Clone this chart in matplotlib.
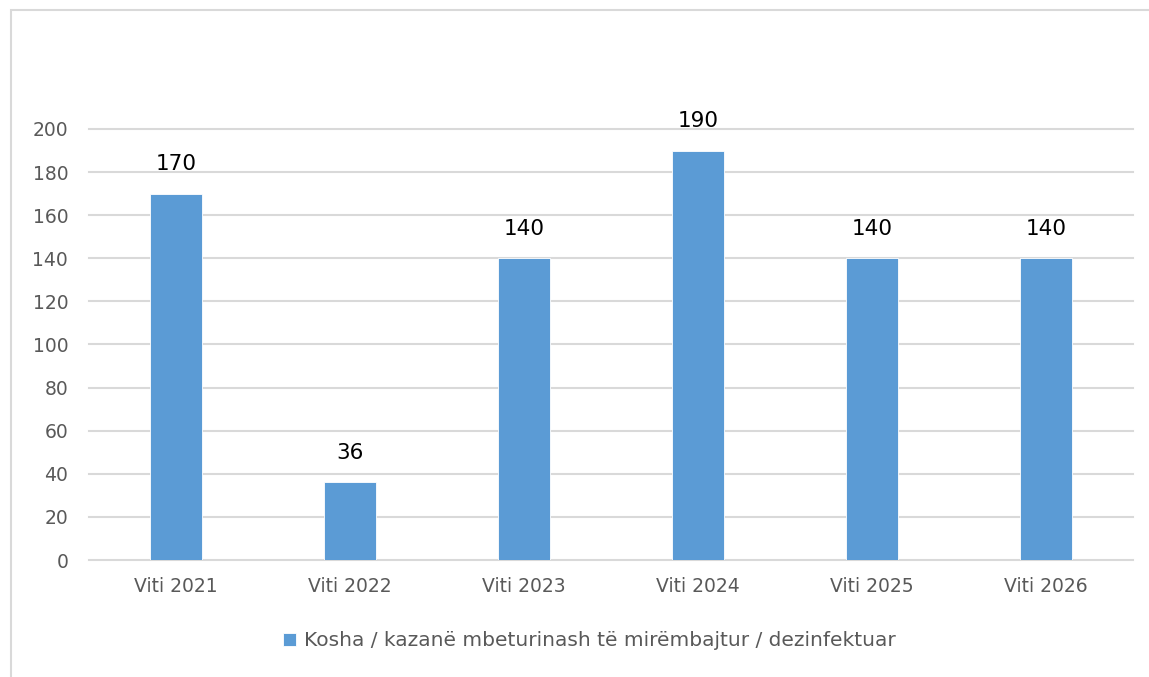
import matplotlib
matplotlib.use('Agg')
import matplotlib.pyplot as plt
from matplotlib.patches import Rectangle

categories = ['Viti 2021', 'Viti 2022', 'Viti 2023', 'Viti 2024', 'Viti 2025', 'Viti 2026']
values = [170, 36, 140, 190, 140, 140]
series_name = 'Kosha / kazanë mbeturinash të mirëmbajtur / dezinfektuar'

bar_color = '#5b9bd5'
grid_color = '#d9d9d9'
text_gray = '#595959'

plt.rcParams['font.family'] = ['DejaVu Sans']

fig = plt.figure(figsize=(11.49, 6.77), dpi=100)
ax = fig.add_axes([0.0775, 0.1728, 0.9085, 0.6367])

# outer chart border (runs off the right and bottom edges)
fig.patches.append(Rectangle((11 / 1149, -0.1), 1.2, 0.1 + (677 - 10) / 677,
                             transform=fig.transFigure, fill=False,
                             edgecolor='#d9d9d9', linewidth=1.5))

x = list(range(len(categories)))
bars = ax.bar(x, values, width=0.3, color=bar_color, edgecolor='white',
              linewidth=0.6, label=series_name, zorder=3)

for xi, v in zip(x, values):
    ax.annotate(str(v), (xi, v), xytext=(0, 14), textcoords='offset points',
                ha='center', va='bottom', fontsize=15.5, color='black')

ax.set_xlim(-0.5, len(categories) - 0.5)
ax.set_ylim(0, 200)
ax.set_yticks(range(0, 201, 20))
ax.set_xticks(x)
ax.set_xticklabels(categories)
ax.tick_params(axis='both', length=0, labelsize=13.5, labelcolor=text_gray)
ax.tick_params(axis='x', pad=12)
ax.tick_params(axis='y', pad=15)

ax.grid(axis='y', color=grid_color, linewidth=1.5, zorder=0)
for gl in ax.get_ygridlines():
    gl.set_clip_on(False)
for s in ax.spines.values():
    s.set_visible(False)

leg = fig.legend(handles=[bars], labels=[series_name], loc='center',
                 bbox_to_anchor=(0.513, 1 - 641 / 677), frameon=False,
                 fontsize=14.5, handlelength=0.6, handleheight=0.6,
                 handletextpad=0.4)
for t in leg.get_texts():
    t.set_color(text_gray)

fig.savefig('out.png', dpi=100)
